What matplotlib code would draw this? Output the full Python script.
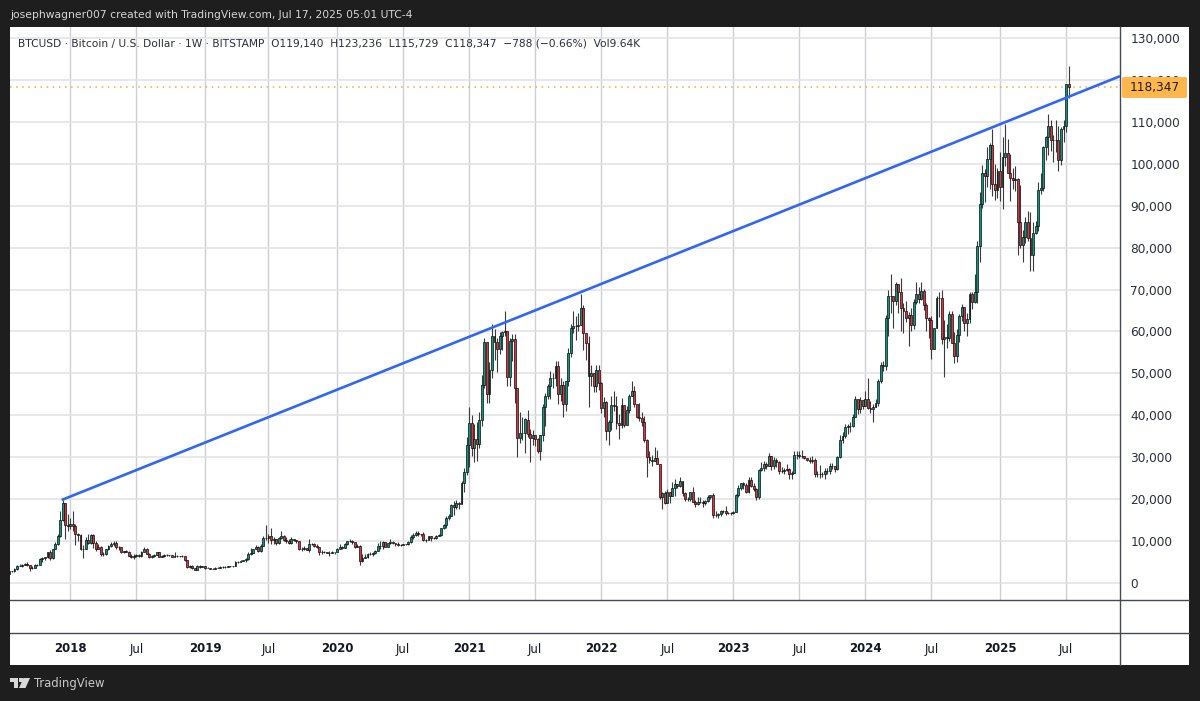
import numpy as np
import pandas as pd
import matplotlib
matplotlib.use("Agg")
import matplotlib.pyplot as plt
from matplotlib.patches import Rectangle, Polygon, FancyBboxPatch

# ---- weekly candles, thousands of USD (Monday of each week) ----
close_2017 = [2.75,2.75,3.25, 4.05,4.08,4.35,4.60, 4.25,3.65,3.60,4.35, 4.40,5.65,6.00,6.10,7.40, 5.85,8.00,9.30,11.25, 15.0,19.0,13.9,13.5]
high_2017 = [2.9,2.85,3.5, 4.2,4.5,4.45,4.75, 4.95,4.35,4.0,4.45, 4.5,5.85,6.2,6.3,7.5, 7.9,8.1,9.8,11.8, 17.2,19.7,19.2,16.5]
low_2017 = [2.2,2.6,2.65, 3.2,3.95,3.9,4.3, 4.0,2.95,3.4,3.55, 4.1,4.35,5.1,5.4,6.0, 5.5,5.8,8.0,9.0, 11.0,14.9,10.4,12.5]

close_2018 = [14.0,13.6,11.6,11.5,8.1, 8.1,10.3,9.6,11.4, 9.5,8.2,8.5,6.9, 7.0,8.0,8.8,9.3,9.65, 8.5,8.5,7.35,7.7, 7.5,6.5,6.1,6.4, 6.7,6.35,7.4,8.2,7.0, 6.3,6.4,6.7,7.3, 6.2,6.5,6.7,6.6, 6.6,6.3,6.4,6.4,6.4, 6.35,5.5,3.8,4.05, 3.5,3.2,3.95,3.85,4.05]
high_2018 = [15.5,17.2,14.0,12.0,11.7, 9.0,10.9,11.7,11.7, 11.7,10.0,9.2,8.9, 7.5,8.2,9.0,9.75,9.9, 10.0,8.9,8.6,7.7, 7.85,7.7,6.8,6.8, 6.85,6.8,7.6,8.5,8.3, 7.1,6.6,6.9,7.3, 7.4,6.6,6.85,6.8, 6.7,6.7,7.5,6.6,6.55, 6.6,6.5,5.6,4.4, 4.2,3.6,4.2,4.25,4.1]
low_2018 = [12.8,12.4,9.0,10.0,7.9, 6.0,8.0,9.3,9.4, 8.4,7.6,8.1,6.5, 6.5,6.6,7.8,8.6,8.9, 8.2,7.9,7.2,7.1, 7.4,6.4,5.9,5.75, 6.25,6.1,6.3,7.3,6.9, 6.0,5.9,6.3,6.7, 6.1,6.1,6.3,6.4, 6.4,6.2,6.2,6.3,6.2, 6.3,5.2,3.5,3.6, 3.4,3.1,3.2,3.6,3.7]

close_2019 = [3.55,3.55,3.45,3.45, 3.65,3.65,3.85,3.85, 3.9,4.0,3.95,4.1, 5.05,5.05,5.3,5.4,5.75, 7.0,7.25,8.0,8.55, 7.65,8.9,10.7,10.8, 11.2,10.2,10.5,9.5,10.8, 11.3,10.3,10.1,9.6, 10.4,10.3,10.0,8.0,8.15, 8.3,7.95,9.2,9.2, 8.8,8.5,7.3,7.4, 7.5,7.1,7.15,7.3,7.35]
high_2019 = [4.1,3.75,3.65,3.55, 3.7,3.75,4.0,3.95, 3.95,4.0,4.05,4.15, 5.3,5.35,5.45,5.6,5.85, 7.5,8.3,8.1,9.0, 8.8,9.4,11.2,13.8, 11.7,13.1,10.9,10.2,11.0, 12.3,11.5,10.9,10.6, 10.9,10.5,10.3,10.0,8.5, 8.8,8.4,10.5,9.6, 9.5,9.2,8.6,7.8, 7.7,7.5,7.6,7.6,7.5]
low_2019 = [3.45,3.5,3.4,3.35, 3.4,3.55,3.7,3.65, 3.65,3.85,3.85,3.9, 4.05,4.85,5.0,5.15,5.1, 5.5,6.6,7.4,8.0, 7.45,7.5,8.9,10.2, 9.6,9.3,9.2,9.1,9.3, 10.6,9.9,9.5,9.3, 9.4,9.9,9.6,7.8,7.7, 7.8,7.8,7.3,9.0, 8.6,8.3,6.6,6.9, 7.1,7.05,6.5,7.1,7.0]

close_2020 = [8.2,8.7,8.35,9.3, 9.9,9.9,9.7,8.55, 8.9,5.2,5.85,6.25,6.8, 6.9,7.05,7.55,8.9, 8.75,9.7,8.7,9.45, 9.7,9.45,9.35,9.0,9.1, 9.3,9.2,9.7,11.05, 11.55,11.85,11.65,11.7,10.25, 10.3,11.1,10.75,10.65, 11.3,11.35,13.1,13.8, 15.5,16.0,18.7,18.2,19.0, 18.8,23.8,26.4,33.0]
high_2020 = [8.4,9.2,8.9,9.5, 9.9,10.5,10.2,9.6, 9.2,9.15,6.9,6.9,7.2, 7.45,7.3,7.8,9.45, 10.0,9.95,9.85,9.6, 10.4,9.9,9.6,9.7,9.3, 9.4,9.35,9.95,11.4, 11.9,12.4,12.5,11.75,12.1, 10.6,11.2,11.0,10.95, 11.4,11.7,13.2,14.1, 15.9,16.5,18.9,19.5,19.9, 19.4,24.3,27.4,34.8]
low_2020 = [7.65,8.0,8.2,8.3, 9.1,9.7,9.3,8.4, 8.5,4.4,4.9,5.9,6.0, 6.7,6.5,6.8,7.6, 8.1,8.2,8.6,8.6, 9.3,9.2,8.9,8.9,8.85, 9.0,9.0,9.1,9.6, 10.6,11.1,11.3,11.1,9.9, 9.85,10.2,10.1,10.4, 10.4,11.2,11.3,12.9, 13.2,15.0,17.2,16.2,17.6, 17.6,19.0,21.8,25.8]

close_2021 = [38.2,32.1,34.3,33.1, 38.9,47.2,57.4,45.2, 50.9,59.0,57.4,55.8,58.8, 59.9,60.0,49.2,57.8, 58.2,46.4,34.7,35.7,35.8, 39.0,35.6,34.7,35.3, 34.3,31.5,35.4,42.0, 44.6,47.0,49.0,48.8,51.8, 45.0,47.3,42.7,48.2, 54.9,60.9,61.3,61.3, 61.5,65.5,59.7,57.3,49.4, 50.0,46.9,50.8,47.7]
high_2021 = [41.9,40.0,37.9,38.5, 40.9,49.7,58.4,52.6, 52.6,61.8,60.6,58.4,59.8, 60.2,64.9,57.5,58.5, 59.5,59.5,43.5,40.9,39.5, 39.4,41.3,36.7,36.6, 35.1,34.6,35.4,42.6, 45.3,47.5,50.5,50.0,52.9, 52.9,48.8,48.3,48.3, 56.0,61.7,64.9,63.7, 64.3,69.0,66.3,59.4,59.0, 51.9,49.5,51.9,52.0]
low_2021 = [27.7,30.4,28.9,29.2, 32.3,37.4,46.6,43.0, 43.0,48.9,53.2,50.4,54.6, 55.5,59.0,47.0,47.0, 52.9,43.0,30.0,33.5,34.2, 31.0,34.8,28.9,33.0, 32.7,31.0,29.3,33.9, 37.4,43.8,43.9,46.4,46.9, 42.6,43.3,39.6,41.0, 47.1,53.9,59.6,58.0, 60.2,62.3,55.6,53.2,41.9, 46.9,45.6,45.6,46.0]

close_2022 = [41.8,43.1,36.3,38.5,42.4, 42.2,38.2,37.7,42.4, 37.8,41.3,44.5,45.8, 42.8,39.7,39.4,38.5, 34.0,30.1,29.4,29.0,29.9, 28.4,20.5,21.5,19.2, 21.6,20.8,22.6,23.6, 23.2,24.3,21.5,20.0,20.0, 21.8,19.4,18.8,19.4, 19.4,19.2,19.6,20.6,20.9, 16.3,16.3,16.4,17.1, 17.1,16.8,16.8,16.6]
high_2022 = [47.9,44.4,43.5,38.9,44.5, 45.8,44.7,40.3,44.2, 42.5,42.3,45.1,48.2, 47.1,42.4,42.9,40.8, 39.9,34.3,31.4,30.6,32.4, 31.8,28.5,21.8,21.9, 22.4,21.8,24.2,24.7, 23.4,25.2,24.4,21.8,20.5, 21.8,22.8,19.7,20.4, 20.4,19.9,19.7,21.0,20.9, 21.4,17.2,16.7,17.5, 17.4,18.4,17.0,16.9]
low_2022 = [40.5,39.7,34.0,32.9,36.6, 41.1,36.8,34.3,37.0, 37.2,37.6,40.5,44.6, 42.1,39.3,38.6,37.5, 33.7,25.3,28.6,28.0,29.3, 28.9,20.1,17.6,18.8, 19.3,19.0,20.7,20.8, 22.7,22.8,20.8,19.5,19.5, 19.6,19.3,18.2,18.5, 19.0,18.2,18.7,19.3,20.0, 15.6,15.8,15.5,16.0, 16.7,16.3,16.4,16.3]

close_2023 = [17.0,20.9,22.7,23.8,23.3, 21.8,24.6,23.2,22.4, 20.5,26.9,27.5,28.5, 28.0,30.3,27.8,29.3, 28.9,26.8,26.7,26.9,27.1, 25.9,26.3,30.5,30.6, 30.3,30.3,29.9,29.3,29.0, 29.3,26.0,26.0,25.9, 25.9,26.6,26.6,28.0, 27.9,27.2,30.0,34.1,35.0, 37.1,37.4,37.4,39.5, 44.0,41.4,43.7,42.3]
high_2023 = [17.1,21.3,23.4,23.9,24.2, 23.9,25.2,25.2,23.9, 22.6,27.2,28.9,29.2, 28.8,30.9,30.4,30.0, 29.9,29.0,27.7,27.4,28.4, 27.4,26.8,31.4,31.4, 31.5,31.8,30.3,29.9,30.0, 30.2,29.7,26.8,28.1, 26.4,27.5,27.5,28.6, 28.6,27.9,30.2,35.2,35.9, 37.9,37.9,38.4,40.2, 44.7,44.0,44.3,43.6]
low_2023 = [16.5,17.0,20.4,22.3,22.5, 21.5,21.4,23.0,21.9, 19.7,20.0,26.6,26.6, 27.2,27.9,26.9,27.2, 27.7,26.0,26.3,25.9,26.6, 24.8,24.8,26.2,29.5, 29.9,29.9,29.6,29.0,28.6, 28.7,25.2,25.4,25.1, 25.4,24.9,26.0,26.0, 27.2,26.5,26.9,29.8,33.4, 34.6,35.6,36.0,37.1, 39.6,40.2,40.6,41.5]

close_2024 = [43.9,41.7,41.6,42.0,43.0, 48.3,52.1,51.7,63.1, 68.4,68.4,67.2,71.3, 69.4,65.7,64.9,63.1,64.0, 61.5,67.0,69.0,67.7, 69.6,66.2,63.2,62.7, 55.9,60.8,68.1,68.0,58.1, 58.7,58.5,64.2,57.3, 54.1,59.1,63.6,65.9,62.1, 62.9,69.0,67.0,69.3, 80.4,90.5,97.8,97.2, 101.2,104.5,95.2,93.7,98.3]
high_2024 = [45.9,49.0,43.5,42.8,43.9, 48.6,52.8,52.9,64.0, 70.0,73.7,68.0,71.7, 71.3,72.8,66.9,67.2,64.7, 65.5,67.7,71.9,70.6, 71.8,70.2,66.9,63.4, 63.8,60.8,68.4,69.4,70.0, 62.7,61.7,65.0,64.9, 59.8,60.6,64.1,66.5,65.5, 64.4,69.4,69.5,73.6, 81.5,93.3,99.8,98.7, 104.0,105.0,108.4,99.9,98.9]
low_2024 = [42.6,41.5,40.6,38.5,41.9, 42.2,47.7,50.5,50.9, 59.0,64.5,60.8,66.4, 64.5,60.0,59.6,62.3,56.5, 60.2,60.7,66.6,66.7, 67.5,65.1,60.0,58.4, 53.4,55.7,63.4,63.5,57.1, 49.2,56.1,57.8,57.3, 52.5,52.6,57.5,62.6,60.2, 59.0,62.0,65.3,66.8, 66.8,76.6,89.4,90.8, 94.5,94.0,92.2,91.3,91.8]

close_2025 = [94.5,101.5,102.6,97.7, 96.5,96.2,96.3,86.2, 80.7,82.6,86.1,82.3,78.3, 83.6,85.2,93.8,94.3, 104.0,106.5,109.0,105.7, 105.7,105.6,100.9,108.4,108.9, 119.14,118.347]
high_2025 = [102.7,106.4,109.4,106.0, 102.4,98.9,99.5,96.5, 95.0,84.3,87.4,88.8,88.5, 86.0,86.4,95.7,97.9, 104.3,106.7,111.9,110.4, 106.8,110.5,108.9,108.8,110.5, 119.1,123.236]
low_2025 = [91.2,89.3,99.5,97.8, 91.2,94.0,93.4,78.2, 80.0,76.6,81.1,81.6,74.5, 74.5,83.2,83.9,92.9, 93.5,100.8,102.0,103.1, 100.4,102.7,98.2,99.7,105.1, 107.5,115.729]

start_open = 2.2
trend_dates = ["2017-12-08", "2025-12-03"]   # trendline anchor dates
trend_prices = [19.8, 120.9]
last_price = 118.347

price_ticks = [0,10,20,30,40,50,60,70,80,90,100,110,120,130]
price_labels = ["0","10,000","20,000","30,000","40,000","50,000","60,000","70,000","80,000","90,000","100,000","110,000","120,000","130,000"]
time_dates = ["2018-01-01","2018-07-02","2019-01-07","2019-07-01","2020-01-06","2020-07-06","2021-01-04","2021-07-05","2022-01-03","2022-07-04","2023-01-02","2023-07-03","2024-01-01","2024-07-01","2025-01-06","2025-07-07"]
time_labels = ["2018","Jul","2019","Jul","2020","Jul","2021","Jul","2022","Jul","2023","Jul","2024","Jul","2025","Jul"]

closes = np.array(close_2017+close_2018+close_2019+close_2020+close_2021+close_2022+close_2023+close_2024+close_2025)
highs = np.array(high_2017+high_2018+high_2019+high_2020+high_2021+high_2022+high_2023+high_2024+high_2025)
lows = np.array(low_2017+low_2018+low_2019+low_2020+low_2021+low_2022+low_2023+low_2024+low_2025)
opens = np.r_[start_open, closes[:-1]]
highs = np.maximum.reduce([highs, opens, closes])
lows = np.minimum.reduce([lows, opens, closes])
dates = pd.date_range("2017-07-17", periods=len(closes), freq="W-MON")
idx = np.arange(len(closes))
def pos(d):
    return (pd.Timestamp(d) - dates[0]).days / 7

W, H = 1200, 701
plt.rcParams['font.family'] = ['DejaVu Sans']
fig = plt.figure(figsize=(W/100, H/100), dpi=100, facecolor='#1e1e1e')
def axpx(x0, y0, x1, y1):
    return fig.add_axes([x0/W, 1-y1/H, (x1-x0)/W, (y1-y0)/H])

# white panel
panel = axpx(10, 27, 1189, 665)
panel.set_axis_off()
panel.add_patch(Rectangle((0,0),1,1,transform=panel.transAxes,fc='white',ec='none'))

ax = axpx(10, 27, 1120, 600)
ax.set_facecolor('white')
px_k = (583-38)/130
ax.set_ylim((583-600)/px_k, (583-27)/px_k)
ax.set_xlim((10-9.4)/2.54, (1120-9.4)/2.54)
ax.set_yticks(price_ticks)
ax.set_yticklabels(price_labels, fontsize=8.7, color='#2a2e39')
ax.yaxis.tick_right()
ax.tick_params(axis='y', length=0, pad=7.5)
ax.set_xticks([pos(d) for d in time_dates])
ax.tick_params(axis='x', length=0, labelbottom=False)
ax.grid(axis='y', color='#e2e2e6', lw=1.1)
ax.grid(axis='x', color='#cdced6', lw=1.0)
ax.set_axisbelow(True)
for s in ax.spines.values():
    s.set_visible(False)

ax.axhline(last_price, color='#f9a73e', lw=1.1, ls=(0,(1,3)), zorder=1.5)

up = closes >= opens
ax.vlines(idx, lows, highs, color='#3a3a3a', lw=0.8, zorder=2)
ax.bar(idx[up], (closes-opens)[up], bottom=opens[up], width=0.75, color='#089981', edgecolor='#0b0b0b', lw=0.5, zorder=3)
ax.bar(idx[~up], (opens-closes)[~up], bottom=closes[~up], width=0.75, color='#e0333f', edgecolor='#0b0b0b', lw=0.5, zorder=3)

ax.plot([pos(d) for d in trend_dates], trend_prices, color='#2f66f5', lw=1.9, zorder=4, solid_capstyle='butt')

# last price tag
tag = FancyBboxPatch((1122/W, 1-98/H), 65/W, 21/H, boxstyle="round,pad=0,rounding_size=0.002",
                     transform=fig.transFigure, fc='#ffb74d', ec='none', zorder=5)
fig.add_artist(tag)
fig.text(1180/W, 1-88/H, "118,347", ha='right', va='center', fontsize=8.7, color='#1b1b1b', zorder=6)

# panes
time_ax = axpx(10, 633, 1120, 665)
time_ax.set_xlim(ax.get_xlim()); time_ax.set_ylim(0, 1)
time_ax.set_axis_off()
for d, l in zip(time_dates, time_labels):
    year = l != "Jul"
    time_ax.text(pos(d), 0.5, l, ha='center', va='center', fontsize=8.5,
                 fontweight='bold' if year else 'normal', color='#131722')

frame = [((1120,1120),(27,665)), ((10,1189),(600,600)), ((10,1189),(633,633))]
for xs, ys in frame:
    fig.add_artist(plt.Line2D([x/W for x in xs], [1-y/H for y in ys], color='#45484f', lw=1.0, transform=fig.transFigure, zorder=7))

# header, legend
fig.text(10/W, 1-15/H, "josephwagner007 created with TradingView.com, Jul 17, 2025 05:01 UTC-4", fontsize=7.75, color='#d6d6d6', va='center')
fig.text(18/W, 1-43/H, "BTCUSD · Bitcoin / U.S. Dollar · 1W · BITSTAMP  O119,140  H123,236  L115,729  C118,347  −788 (−0.66%)  Vol9.64K",
         fontsize=7.7, color='#2a2e39', va='center')

# TradingView logo
lc = '#d8d8d8'
def lx(x): return x/W
def ly(y): return 1-y/H
fig.add_artist(Polygon([(lx(10),ly(678)),(lx(18),ly(678)),(lx(18),ly(688)),(lx(14),ly(688)),(lx(14),ly(682)),(lx(10),ly(682))], closed=True, transform=fig.transFigure, fc=lc, ec='none'))
fig.add_artist(Polygon([(lx(23.5),ly(678)),(lx(30),ly(678)),(lx(25.5),ly(688)),(lx(19),ly(688))], closed=True, transform=fig.transFigure, fc=lc, ec='none'))
fig.add_artist(Polygon([(lx(19),ly(678)),(lx(22.5),ly(678)),(lx(22.5),ly(681.5)),(lx(19),ly(681.5))], closed=True, transform=fig.transFigure, fc=lc, ec='none'))
fig.text(34/W, 1-684/H, "TradingView", fontsize=8.4, color='#c8c8c8', va='center')

fig.savefig("out.png", dpi=100, facecolor=fig.get_facecolor())
